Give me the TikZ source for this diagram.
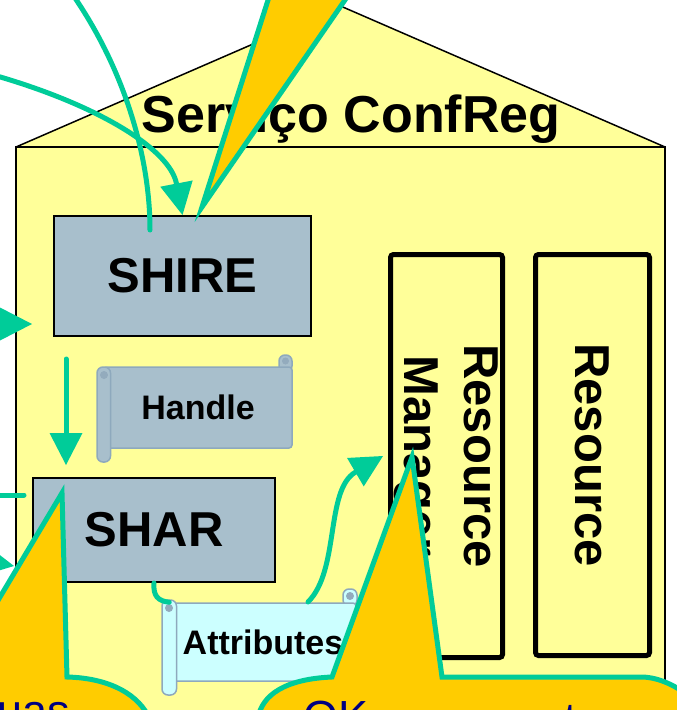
\documentclass[tikz,border=0pt]{standalone}
\usepackage{fontspec}
\setmainfont{Liberation Sans}
\usetikzlibrary{arrows.meta}

\definecolor{wallyellow}{HTML}{FFFF99}
\definecolor{boxgray}{HTML}{A8BFCC}
\definecolor{scrolledge}{HTML}{8EA9BD}
\definecolor{rolldark}{HTML}{93ABBD}
\definecolor{attrcyan}{HTML}{CCFFFF}
\definecolor{flowgreen}{HTML}{00CC99}
\definecolor{calloutyellow}{HTML}{FFCC00}
\definecolor{calloutnavy}{HTML}{000080}

\newcommand{\bigfont}{\bfseries\fontsize{49}{60}\selectfont}

\begin{document}
\begin{tikzpicture}[x=1pt,y=-1pt,>={Triangle[length=32pt,width=33pt,line width=0pt]},
  block/.style={draw,line width=2pt,fill=boxgray,inner sep=0pt,font=\bigfont},
  column/.style={draw,line width=5pt,rounded corners=3pt,fill=wallyellow,inner sep=0pt,rotate=-90,align=center,font=\bigfont},
  scrollbody/.style={draw=scrolledge,line width=1.5pt,rounded corners=3pt,inner sep=0pt,font=\bfseries\fontsize{34}{40}\selectfont},
  roll/.style={draw=scrolledge,line width=1.5pt,rounded corners=6pt},
  flow/.style={draw=flowgreen,line width=5pt,line cap=round},
  callout/.style={draw=flowgreen,line width=5pt,fill=calloutyellow},
  callouttext/.style={text=calloutnavy,font=\fontsize{45}{54}\selectfont,inner sep=0pt}]
  \useasboundingbox (0,0) rectangle (677,710);
  \clip (0,0) rectangle (677,710);

% define the house
  \path[fill=wallyellow] (16,147) -- (340.5,6) -- (665,147) -- (665,720) -- (16,720) -- cycle;
  \draw[line width=1.5pt] (16,147) -- (340.5,6) -- (665,147);
  \draw[line width=2pt] (16,720) -- (16,147) -- (665,147) -- (665,720);
  \node[font=\bfseries\fontsize{52}{60}\selectfont,anchor=base] (title) at (351,132) {Serviço ConfReg};

% define the blocks
  \node[block,minimum width=257pt,minimum height=120pt] (shire) at (182.5,276) {SHIRE};
  \node[block,minimum width=242pt,minimum height=104pt] (shar) at (154,530) {SHAR};
  \node[column,minimum width=403pt,minimum height=112pt] (manager) at (446.5,456) {Resource\\Manager};
  \node[column,minimum width=401pt,minimum height=114pt] (resource) at (592.5,455) {Resource};

% define the scrolls
  \draw[roll,fill=boxgray] (279,355) rectangle (292,372);
  \fill[rolldark] (285.5,361) circle (3.5);
  \node[scrollbody,fill=boxgray,minimum width=188pt,minimum height=81pt] (handle) at (198,407.5) {Handle};
  \draw[roll,fill=boxgray] (97,367) rectangle (110.5,462);
  \fill[rolldark] (104,375) circle (4);

  \draw[roll,fill=attrcyan] (343,589) rectangle (357,606);
  \fill[rolldark] (350,596) circle (4);
  \node[scrollbody,fill=attrcyan,minimum width=186pt,minimum height=78pt] (attr) at (263,642) {Attributes};
  \draw[roll,fill=attrcyan] (162,600) rectangle (176.5,695);
  \fill[rolldark] (169,608) circle (4);

% define the links
  \coordinate (topin) at (-10,74);
  \coordinate (topdrop) at (68,-12);
  \coordinate (shirein) at (150,230);
  \coordinate (leftin) at (-40,324);
  \coordinate (lefttip) at (32,324);
  \coordinate (downfrom) at (66,359);
  \coordinate (downto) at (66,465);
  \coordinate (sidein) at (-10,495);
  \coordinate (sidestop) at (24,495);
  \coordinate (lowin) at (-40,556);
  \coordinate (lowtip) at (14,566);
  \coordinate (attrout) at (308,602);

  \draw[flow,->] (topin) .. controls (100,105) and (170,150) .. (shire.north);
  \draw[flow] (topdrop) .. controls (120,60) and (150,150) .. (shirein);
  \draw[flow,->] (leftin) -- (lefttip);
  \draw[flow,->] (downfrom) -- (downto);
  \draw[flow] (sidein) -- (sidestop);
  \draw[flow,->] (lowin) -- (lowtip);
  \draw[flow] (shar.south) .. controls (153,596) and (158,601) .. (attr.north west);
  \draw[flow,->] (attrout) .. controls (340,570) and (325,490) .. ([xshift=-5pt]manager.south);

% define the callouts
  \path[callout] (284,-50) -- (202,207) -- (379.5,-50) -- cycle;
  \path[callout] (-25.6,640) -- (62,493) -- (67,677) .. controls (110,678) and (140,695) .. (150,720)
    -- (-40,720) -- cycle;
  \path[callout] (332,677) -- (412,457) -- (442,677) -- (643,677) .. controls (660,678) and (675,685) .. (695,700)
    -- (695,730) -- (250,730) -- (258,718) .. controls (262,695) and (285,679) .. cycle;
  \node[callouttext,anchor=base west] (hint) at (-3,726) {uas};
  \node[callouttext,anchor=base west] (okmsg) at (303,732) {OK};
  \node[callouttext,anchor=base west] (tail) at (564,734) {t};
\end{tikzpicture}
\end{document}
